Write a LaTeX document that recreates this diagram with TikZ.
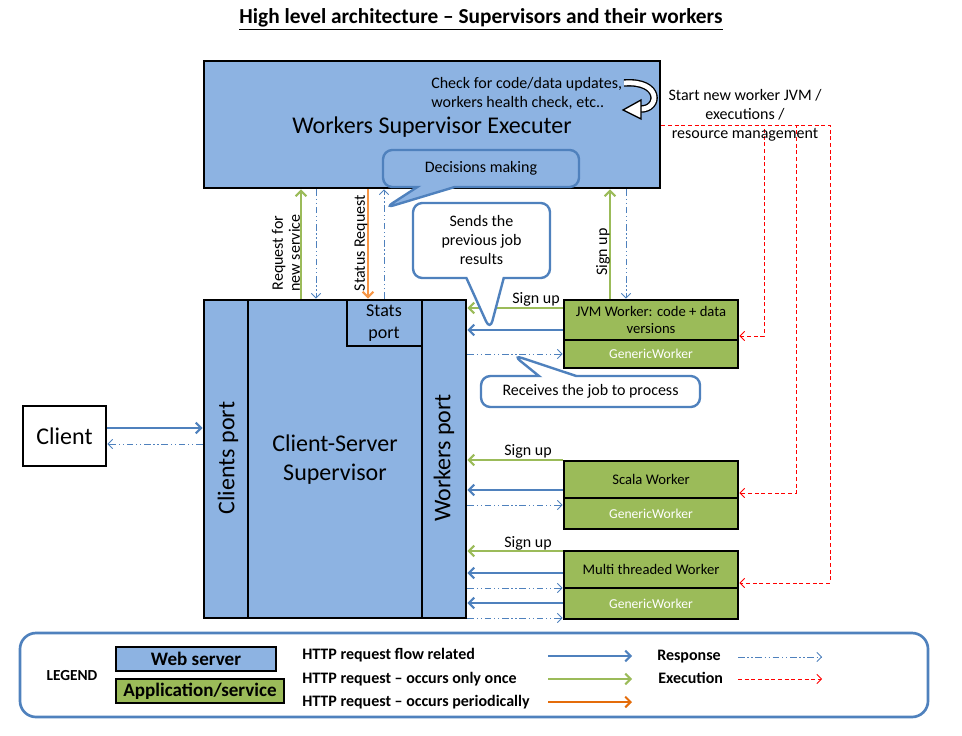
\documentclass[tikz,border=0pt]{standalone}
\usepackage{fontspec}
\setmainfont{Carlito}
\usetikzlibrary{arrows.meta,fit,shapes.callouts}
\definecolor{srvblue}{HTML}{8DB3E2}
\definecolor{lineblue}{HTML}{4F81BD}
\definecolor{appgreen}{HTML}{9BBB59}
\definecolor{statorange}{HTML}{F79646}
\definecolor{legorange}{HTML}{E46C0A}
\newcommand{\fsize}[2]{\fontsize{#1}{#2}\selectfont}

\begin{document}
\begin{tikzpicture}[x=0.75pt,y=-0.75pt]
    \tikzstyle{webbox}=[draw, fill=srvblue, line width=2.2pt, inner sep=0pt]
    \tikzstyle{appbox}=[draw, fill=appgreen, line width=2.2pt, inner sep=0pt, minimum width=130.5pt, align=center, font=\fsize{11}{12.75}]
    \tikzstyle{genbox}=[appbox, text=white, font=\fsize{10.2}{12}]
    \tikzstyle{bubble}=[rectangle callout, draw=lineblue, line width=1.8pt, rounded corners=7pt, callout pointer width=28pt, align=center, font=\fsize{12}{14.25}]
    \tikzstyle{lbl}=[inner sep=0pt, align=center, font=\fsize{12}{12.75}]
    \tikzstyle{big}=[inner sep=0pt, align=center, font=\fsize{18}{21.75}]
    \tikzstyle{leg}=[inner sep=0pt, anchor=west, font=\bfseries\fsize{12}{13}]
    \tikzstyle{flowarrow}=[draw=lineblue, line width=1.5pt, -{Straight Barb[length=4pt,width=8pt]}]
    \tikzstyle{oncearrow}=[flowarrow, draw=appgreen]
    \tikzstyle{statarrow}=[flowarrow, draw=statorange]
    \tikzstyle{resparrow}=[draw=lineblue, line width=0.6pt, dash pattern=on 5pt off 2pt on 1pt off 2pt on 1pt off 2pt, -{Straight Barb[length=3.5pt,width=7pt]}]
    \tikzstyle{execarrow}=[draw=red, line width=0.6pt, dash pattern=on 3pt off 2pt, -{Straight Barb[length=3.5pt,width=7pt]}]
    \useasboundingbox (0,0) rectangle (962,735);

    \node[font=\bfseries\fsize{16}{18}] (title) at (481,19) {\underline{High level architecture – Supervisors and their workers}};

    % supervisor executer
    \node[webbox, fit={(204,61)(660,188)}] (wse) {};
    \node[inner sep=0pt, font=\fsize{18}{20}] (wsetxt) at (432,127) {Workers Supervisor Executer};
    \node[lbl, anchor=west, align=left, font=\fsize{12}{14.25}] (checks) at (431,93) {Check for code/data updates,\\workers health check, etc..};
    \draw[double=white, double distance=3.6pt, line width=1pt] (624,83) .. controls (662,80) and (660,110) .. (640,109);
    \filldraw[fill=white, line width=1pt] (623,110) -- (641,100) -- (641,119) -- cycle;
    \node[bubble, fill=srvblue, minimum width=147pt, minimum height=27.75pt, callout absolute pointer={(385,208)}] (decide) at (481,168.5) {Decisions making};

    % client-server supervisor
    \node[webbox, fit={(204,300)(466,618)}] (cs) {};
    \node[webbox, fit={(204,300)(248,618)}] (clport) {};
    \node[webbox, fit={(422,300)(466,618)}] (wkport) {};
    \node[webbox, fit={(347,300)(422,346)}] (stats) {};
    \node[big] (cstxt) at (335,460) {Client-Server\\Supervisor};
    \node[big, rotate=90] (cltxt) at (228,458) {Clients port};
    \node[big, rotate=90] (wktxt) at (444,458) {Workers port};
    \node[inner sep=0pt, align=center, font=\fsize{13.5}{17}] (statstxt) at (384,323) {Stats\\port};

    \node[draw, line width=2.2pt, fill=white, minimum width=62.25pt, minimum height=45pt, font=\fsize{18}{20}] (client) at (64.5,436) {Client};
    \draw[flowarrow] (client.east |- 0,428) -- (clport.west |- 0,428);
    \draw[resparrow] (clport.west |- 0,444) -- (client.east |- 0,444);

    % workers
    \node[appbox, minimum height=30pt] (jvm) at (651,320) {JVM Worker: code + data\\versions};
    \node[genbox, minimum height=21pt] (jvmgen) at (651,354) {GenericWorker};
    \node[appbox, minimum height=27.75pt] (scala) at (651,479.5) {Scala Worker};
    \node[genbox, minimum height=23.25pt] (scalagen) at (651,513.5) {GenericWorker};
    \node[appbox, minimum height=27.75pt] (multi) at (651,569.5) {Multi threaded Worker};
    \node[genbox, minimum height=23.25pt] (multigen) at (651,603.5) {GenericWorker};

    \draw[oncearrow] (cs.north -| 301,0) -- (wse.south -| 301,0);
    \draw[resparrow] (wse.south -| 316,0) -- (cs.north -| 316,0);
    \draw[statarrow] (wse.south -| 368,0) -- (stats.north -| 368,0);
    \draw[resparrow] (stats.north -| 384,0) -- (wse.south -| 384,0);
    \draw[oncearrow] (jvm.north -| 610,0) -- (wse.south -| 610,0);
    \draw[resparrow] (wse.south -| 626,0) -- (jvm.north -| 626,0);
    \node[lbl, rotate=90] (reqlbl) at (286,253) {Request for\\new service};
    \node[lbl, rotate=90] (statlbl) at (361,243) {Status Request};
    \node[lbl, rotate=90] (jvmsign) at (603,252) {Sign up};

    \draw[oncearrow] (jvm.west |- 0,308) -- (wkport.east |- 0,308);
    \node[lbl] (jvmsu) at (536,299) {Sign up};
    \draw[flowarrow] (jvm.west |- 0,330) -- (wkport.east |- 0,330);
    \draw[resparrow] (wkport.east |- 0,354) -- (jvmgen.west |- 0,354);

    \draw[oncearrow] (scala.west |- 0,460) -- (wkport.east |- 0,460);
    \node[lbl] (scalasu) at (528,451) {Sign up};
    \draw[flowarrow] (scalagen.west |- 0,490) -- (wkport.east |- 0,490);
    \draw[resparrow] (wkport.east |- 0,505) -- (scalagen.west |- 0,505);

    \draw[oncearrow] (multi.west |- 0,551) -- (wkport.east |- 0,551);
    \node[lbl] (multisu) at (528,543) {Sign up};
    \draw[flowarrow] (multi.west |- 0,573) -- (wkport.east |- 0,573);
    \draw[resparrow] (wkport.east |- 0,588) -- (multigen.west |- 0,588);
    \draw[flowarrow] (multigen.west |- 0,603) -- (wkport.east |- 0,603);
    \draw[resparrow] (wkport.east |- 0,618) -- (multigen.west |- 0,618);

    \node[bubble, fill=white, minimum width=102.75pt, minimum height=56.25pt, callout absolute pointer={(490,330)}] (sends) at (481.5,240.5) {Sends the\\previous job\\results};
    \node[bubble, fill=white, minimum width=164.25pt, minimum height=23.25pt, callout absolute pointer={(513,355)}] (receives) at (590.5,391.5) {Receives the job to process};

    % executions
    \draw[execarrow] (wse.east |- 0,125) -| (764,336) -- (jvm.east |- 0,336);
    \draw[execarrow] (wse.east |- 0,125) -| (796,493) -- (scalagen.east |- 0,493);
    \draw[execarrow] (wse.east |- 0,125) -| (830,583) -- (multi.east |- 0,583);
    \node[lbl, font=\fsize{12}{14.25}] (execlbl) at (745,115) {Start new worker JVM /\\executions /\\resource management};

    % legend
    \node[draw=lineblue, line width=2pt, rounded corners=12pt, fit={(20,633)(928,717)}, inner sep=0pt] (legend) {};
    \node[inner sep=0pt, font=\bfseries\fsize{11.5}{13}] (legtitle) at (72,676) {LEGEND};
    \node[webbox, minimum width=120pt, minimum height=18pt, font=\bfseries\fsize{14.3}{16}] (legweb) at (196,659) {Web server};
    \node[appbox, minimum width=126pt, minimum height=18pt, font=\bfseries\fsize{14.3}{16}] (legapp) at (200,691) {Application/service};
    \node[leg] (legflow) at (302,655) {HTTP request flow related};
    \node[leg] (legonce) at (302,679) {HTTP request – occurs only once};
    \node[leg] (legper) at (302,702) {HTTP request – occurs periodically};
    \node[leg] (legresp) at (657,657) {Response};
    \node[leg] (legexec) at (658,678) {Execution};
    \coordinate (flowa) at (548,656); \coordinate (flowb) at (632,656);
    \coordinate (oncea) at (548,679); \coordinate (onceb) at (632,679);
    \coordinate (pera) at (548,702); \coordinate (perb) at (632,702);
    \coordinate (respa) at (738,657); \coordinate (respb) at (822,657);
    \coordinate (execa) at (738,679); \coordinate (execb) at (822,679);
    \draw[flowarrow] (flowa) -- (flowb);
    \draw[oncearrow] (oncea) -- (onceb);
    \draw[flowarrow, draw=legorange] (pera) -- (perb);
    \draw[resparrow] (respa) -- (respb);
    \draw[execarrow] (execa) -- (execb);
\end{tikzpicture}
\end{document}
